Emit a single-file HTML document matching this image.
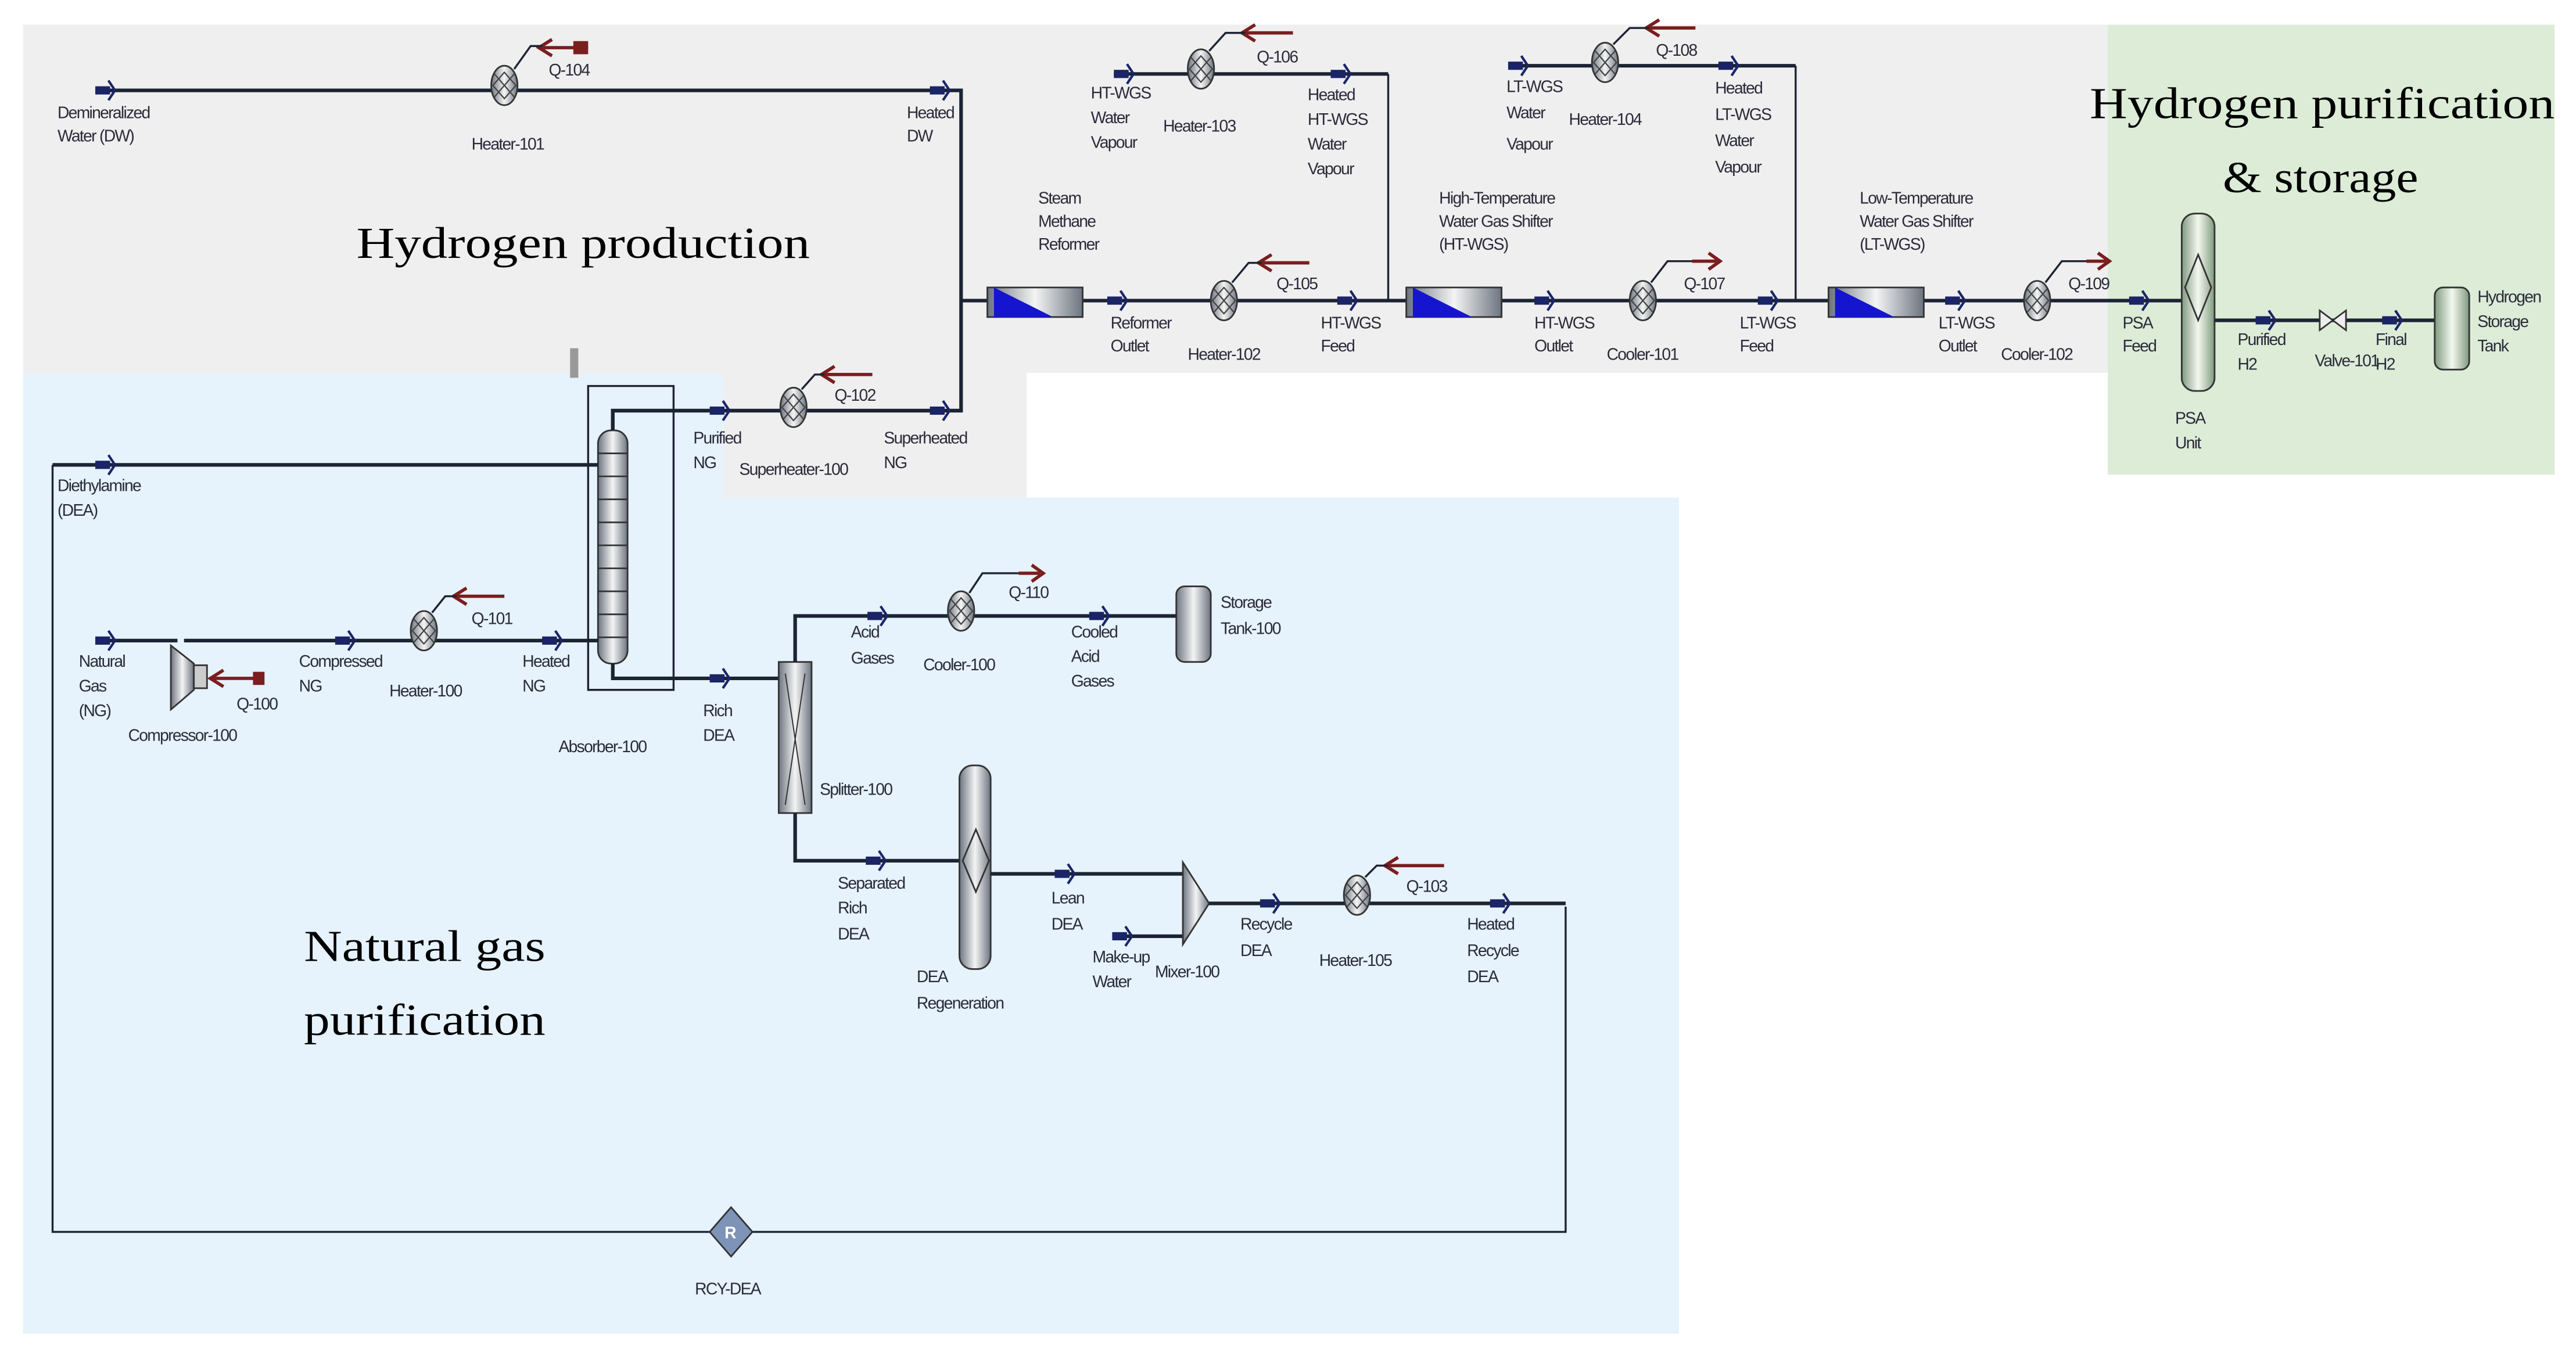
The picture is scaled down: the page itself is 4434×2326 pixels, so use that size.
<!DOCTYPE html>
<html><head><meta charset="utf-8"><style>
html,body{margin:0;padding:0;background:#fff}
svg{display:block}
.l{font-family:"Liberation Sans",sans-serif;font-size:10px;fill:#2a2a3a;letter-spacing:-0.6px}
.big{font-family:"Liberation Serif",serif;font-size:27px;fill:#000}
.ln{stroke:#1c2333;stroke-width:2.2;fill:none}
.th{stroke:#1c2333;stroke-width:1.2;fill:none}
.q{stroke:#7a1e1e;stroke-width:2;fill:none}
</style></head><body>
<svg width="4434" height="2326" viewBox="0 0 1568 822.5" xmlns="http://www.w3.org/2000/svg">
<defs>
<linearGradient id="g" x1="0" x2="1"><stop offset="0" stop-color="#6c7480"/><stop offset="0.5" stop-color="#f4f4f4"/><stop offset="1" stop-color="#6c7480"/></linearGradient>
<linearGradient id="gg" x1="0" x2="1"><stop offset="0" stop-color="#7f9a7f"/><stop offset="0.5" stop-color="#f4f8f0"/><stop offset="1" stop-color="#7f9a7f"/></linearGradient>
<g id="m"><rect x="-6" y="-2.5" width="9" height="5" fill="#1a2466"/><path d="M2,-6 L6,0 L2,6" fill="none" stroke="#1a2466" stroke-width="1.5"/></g>
<g id="hx"><ellipse cx="0" cy="0" rx="8" ry="12" fill="url(#g)" stroke="#333" stroke-width="1"/><path d="M-6,-7 L6,7 M-6,7 L6,-7 M-7,0 L0,-8 L7,0 L0,8Z" stroke="#444" stroke-width="0.8" fill="none"/></g>
<g id="rx"><rect x="0" y="-9" width="58" height="18" fill="url(#g)" stroke="#333"/><path d="M4,-9 L4,9 L40,9Z" fill="#1515d0"/></g>
</defs>
<rect x="14" y="15" width="1269" height="212" fill="#efefef"/>
<rect x="440" y="227" width="185" height="76" fill="#efefef"/>
<rect x="14" y="227" width="426" height="76" fill="#e6f2fc"/>
<rect x="14" y="303" width="1008" height="509" fill="#e6f2fc"/>
<rect x="1283" y="15" width="272" height="274" fill="#dcecd7"/>

<text class="big" x="217" y="157" textLength="276" lengthAdjust="spacingAndGlyphs">Hydrogen production</text>
<text class="big" x="1272" y="72" textLength="283" lengthAdjust="spacingAndGlyphs">Hydrogen purification</text>
<text class="big" x="1353" y="117" textLength="119" lengthAdjust="spacingAndGlyphs">&amp; storage</text>
<text class="big" x="185" y="585" textLength="147" lengthAdjust="spacingAndGlyphs">Natural gas</text>
<text class="big" x="185" y="630" textLength="147" lengthAdjust="spacingAndGlyphs">purification</text>

<path class="ln" d="M58,55 H585 V250 H373 V262"/>
<path class="ln" d="M585,183 H1328"/>
<use href="#m" x="64" y="55"/><use href="#m" x="572" y="55"/>
<use href="#hx" x="307" y="52"/>
<path class="q" d="M358,29 H330 M336,24 L328,29 L336,34"/><rect x="349" y="25" width="9" height="8" fill="#7a1e1e"/>
<path class="th" d="M313,42 L323,28 H330"/>
<text class="l" x="35" y="72">Demineralized</text><text class="l" x="35" y="86">Water (DW)</text>
<text class="l" x="287" y="91">Heater-101</text><text class="l" x="334" y="46">Q-104</text>
<text class="l" x="552" y="72">Heated</text><text class="l" x="552" y="86">DW</text>

<use href="#rx" x="601" y="184"/>
<text class="l" x="632" y="124">Steam</text><text class="l" x="632" y="138">Methane</text><text class="l" x="632" y="152">Reformer</text>
<use href="#m" x="680" y="183"/><text class="l" x="676" y="200">Reformer</text><text class="l" x="676" y="214">Outlet</text>
<use href="#hx" x="745" y="183"/><text class="l" x="723" y="219">Heater-102</text>
<path class="q" d="M797,160 H768 M774,155 L766,160 L774,165"/><path class="th" d="M750,172 L760,160 H768"/><text class="l" x="777" y="176">Q-105</text>
<use href="#m" x="820" y="183"/><text class="l" x="804" y="200">HT-WGS</text><text class="l" x="804" y="214">Feed</text>
<path class="ln" d="M678,45 H845"/><path class="th" d="M845,45 V183"/>
<use href="#m" x="684" y="45"/><use href="#hx" x="731" y="42"/><use href="#m" x="816" y="45"/>
<path class="q" d="M787,20 H758 M764,15 L756,20 L764,25"/><path class="th" d="M736,31 L746,20 H758"/><text class="l" x="765" y="38">Q-106</text>
<text class="l" x="664" y="60">HT-WGS</text><text class="l" x="664" y="75">Water</text><text class="l" x="664" y="90">Vapour</text>
<text class="l" x="708" y="80">Heater-103</text>
<text class="l" x="796" y="61">Heated</text><text class="l" x="796" y="76">HT-WGS</text><text class="l" x="796" y="91">Water</text><text class="l" x="796" y="106">Vapour</text>
<use href="#rx" x="856" y="184"/>
<text class="l" x="876" y="124">High-Temperature</text><text class="l" x="876" y="138">Water Gas Shifter</text><text class="l" x="876" y="152">(HT-WGS)</text>
<use href="#m" x="940" y="183"/><text class="l" x="934" y="200">HT-WGS</text><text class="l" x="934" y="214">Outlet</text>
<use href="#hx" x="1000" y="183"/><text class="l" x="978" y="219">Cooler-101</text>
<path class="th" d="M1005,172 L1015,159 H1045"/><path class="q" d="M1030,159 H1045 M1040,154 L1047,159 L1040,164"/><text class="l" x="1025" y="176">Q-107</text>
<use href="#m" x="1076" y="183"/><text class="l" x="1059" y="200">LT-WGS</text><text class="l" x="1059" y="214">Feed</text>
<path class="ln" d="M918,40 H1093"/><path class="th" d="M1093,40 V183"/>
<use href="#m" x="924" y="40"/><use href="#hx" x="977" y="38"/><use href="#m" x="1052" y="40"/>
<path class="q" d="M1032,17 H1004 M1010,12 L1002,17 L1010,22"/><path class="th" d="M982,27 L992,17 H1004"/><text class="l" x="1008" y="34">Q-108</text>
<text class="l" x="917" y="56">LT-WGS</text><text class="l" x="917" y="72">Water</text><text class="l" x="917" y="91">Vapour</text>
<text class="l" x="955" y="76">Heater-104</text>
<text class="l" x="1044" y="57">Heated</text><text class="l" x="1044" y="73">LT-WGS</text><text class="l" x="1044" y="89">Water</text><text class="l" x="1044" y="105">Vapour</text>
<use href="#rx" x="1113" y="184"/>
<text class="l" x="1132" y="124">Low-Temperature</text><text class="l" x="1132" y="138">Water Gas Shifter</text><text class="l" x="1132" y="152">(LT-WGS)</text>
<use href="#m" x="1190" y="183"/><text class="l" x="1180" y="200">LT-WGS</text><text class="l" x="1180" y="214">Outlet</text>
<use href="#hx" x="1240" y="183"/><text class="l" x="1218" y="219">Cooler-102</text>
<path class="th" d="M1245,172 L1255,159 H1282"/><path class="q" d="M1270,159 H1282 M1277,154 L1284,159 L1277,164"/><text class="l" x="1259" y="176">Q-109</text>
<use href="#m" x="1302" y="183"/><text class="l" x="1292" y="200">PSA</text><text class="l" x="1292" y="214">Feed</text>
<rect x="1328" y="130" width="20" height="108" rx="8" fill="url(#gg)" stroke="#333"/>
<path d="M1338,155 L1346,175 L1338,195 L1330,175Z" fill="none" stroke="#333"/>
<text class="l" x="1324" y="258">PSA</text><text class="l" x="1324" y="273">Unit</text>
<path class="ln" d="M1348,195 H1482"/>
<use href="#m" x="1379" y="195"/><text class="l" x="1362" y="210">Purified</text><text class="l" x="1362" y="225">H2</text>
<path d="M1412,189 L1428,201 L1428,189 L1412,201Z" fill="#eee" stroke="#333"/><text class="l" x="1409" y="223">Valve-101</text>
<use href="#m" x="1456" y="195"/><text class="l" x="1446" y="210">Final</text><text class="l" x="1446" y="225">H2</text>
<rect x="1482" y="175" width="21" height="50" rx="5" fill="url(#gg)" stroke="#333"/>
<text class="l" x="1508" y="184">Hydrogen</text><text class="l" x="1508" y="199">Storage</text><text class="l" x="1508" y="214">Tank</text>

<path class="th" d="M358,235 H410 V420 H358 Z"/>
<rect x="364" y="262" width="18" height="142" rx="8" fill="url(#g)" stroke="#333"/>
<path d="M364,276 H382 M364,290 H382 M364,304 H382 M364,318 H382 M364,332 H382 M364,346 H382 M364,360 H382 M364,374 H382 M364,388 H382" stroke="#333"/>
<rect x="347" y="212" width="5" height="18" fill="#999"/>
<path class="ln" d="M373,262 V250 H585"/>
<use href="#m" x="438" y="250"/><use href="#hx" x="483" y="248"/><use href="#m" x="572" y="250"/>
<path class="q" d="M531,228 H502 M508,223 L500,228 L508,233"/><path class="th" d="M488,237 L496,228 H502"/><text class="l" x="508" y="244">Q-102</text>
<text class="l" x="422" y="270">Purified</text><text class="l" x="422" y="285">NG</text>
<text class="l" x="450" y="289">Superheater-100</text>
<text class="l" x="538" y="270">Superheated</text><text class="l" x="538" y="285">NG</text>

<path class="ln" d="M32,283 H364"/><path class="th" d="M32,283 V750 H953 V552"/>
<use href="#m" x="64" y="283"/><text class="l" x="35" y="299">Diethylamine</text><text class="l" x="35" y="314">(DEA)</text>
<path d="M445,735 L458,750 L445,765 L432,750Z" fill="#7e93b8" stroke="#333"/><text x="441" y="754" font-family="Liberation Sans" font-size="10" fill="#fff" font-weight="bold">R</text>
<text class="l" x="423" y="788">RCY-DEA</text>

<path class="ln" d="M58,390 H108 M112,390 H364"/>
<use href="#m" x="64" y="390"/><text class="l" x="48" y="406">Natural</text><text class="l" x="48" y="421">Gas</text><text class="l" x="48" y="436">(NG)</text>
<path d="M104,393 L118,404 L118,420 L104,432Z" fill="url(#g)" stroke="#333"/><rect x="118" y="405" width="8" height="14" fill="#ccc" stroke="#333"/>
<path class="q" d="M160,413 H130 M136,408 L128,413 L136,418"/><rect x="154" y="409" width="7" height="8" fill="#7a1e1e"/>
<text class="l" x="144" y="432">Q-100</text><text class="l" x="78" y="451">Compressor-100</text>
<use href="#m" x="210" y="390"/><text class="l" x="182" y="406">Compressed</text><text class="l" x="182" y="421">NG</text>
<use href="#hx" x="258" y="384"/><text class="l" x="237" y="424">Heater-100</text>
<path class="q" d="M307,363 H278 M284,358 L276,363 L284,368"/><path class="th" d="M263,373 L271,363 H278"/><text class="l" x="287" y="380">Q-101</text>
<use href="#m" x="336" y="390"/><text class="l" x="318" y="406">Heated</text><text class="l" x="318" y="421">NG</text>
<text class="l" x="340" y="458">Absorber-100</text>
<path class="ln" d="M373,404 V413 H474"/>
<use href="#m" x="438" y="413"/><text class="l" x="428" y="436">Rich</text><text class="l" x="428" y="451">DEA</text>

<rect x="474" y="403" width="20" height="92" fill="url(#g)" stroke="#333"/>
<path d="M478,410 Q484,450 490,490 M490,410 Q484,450 478,490" stroke="#333" fill="none" stroke-width="0.7"/>
<text class="l" x="499" y="484">Splitter-100</text>
<path class="ln" d="M484,403 V375 H716"/>
<use href="#m" x="534" y="375"/><text class="l" x="518" y="388">Acid</text><text class="l" x="518" y="404">Gases</text>
<use href="#hx" x="585" y="372"/><text class="l" x="562" y="408">Cooler-100</text>
<path class="th" d="M590,361 L598,349 H620"/><path class="q" d="M620,349 H633 M628,344 L635,349 L628,354"/><text class="l" x="614" y="364">Q-110</text>
<use href="#m" x="669" y="375"/><text class="l" x="652" y="388">Cooled</text><text class="l" x="652" y="403">Acid</text><text class="l" x="652" y="418">Gases</text>
<rect x="716" y="357" width="21" height="46" rx="5" fill="url(#g)" stroke="#333"/>
<text class="l" x="743" y="370">Storage</text><text class="l" x="743" y="386">Tank-100</text>
<path class="ln" d="M484,495 V524 H585"/>
<use href="#m" x="533" y="524"/><text class="l" x="510" y="541">Separated</text><text class="l" x="510" y="556">Rich</text><text class="l" x="510" y="572">DEA</text>
<rect x="584" y="466" width="19" height="124" rx="8" fill="url(#g)" stroke="#333"/>
<path d="M594,505 L602,524 L594,543 L586,524Z" fill="none" stroke="#333"/>
<text class="l" x="558" y="598">DEA</text><text class="l" x="558" y="614">Regeneration</text>
<path class="ln" d="M603,532 H720"/><use href="#m" x="648" y="532"/>
<text class="l" x="640" y="550">Lean</text><text class="l" x="640" y="566">DEA</text>
<path class="ln" d="M677,570 H720"/><use href="#m" x="683" y="570"/>
<text class="l" x="665" y="586">Make-up</text><text class="l" x="665" y="601">Water</text>
<path d="M720,525 L736,550 L720,575Z" fill="url(#g)" stroke="#333"/><text class="l" x="703" y="595">Mixer-100</text>
<path class="ln" d="M736,550 H953"/>
<use href="#m" x="773" y="550"/><text class="l" x="755" y="566">Recycle</text><text class="l" x="755" y="582">DEA</text>
<use href="#hx" x="826" y="545"/><text class="l" x="803" y="588">Heater-105</text>
<path class="q" d="M879,527 H845 M851,522 L843,527 L851,532"/><path class="th" d="M831,534 L838,527 H845"/><text class="l" x="856" y="543">Q-103</text>
<use href="#m" x="913" y="550"/><text class="l" x="893" y="566">Heated</text><text class="l" x="893" y="582">Recycle</text><text class="l" x="893" y="598">DEA</text>
</svg>
</body></html>
